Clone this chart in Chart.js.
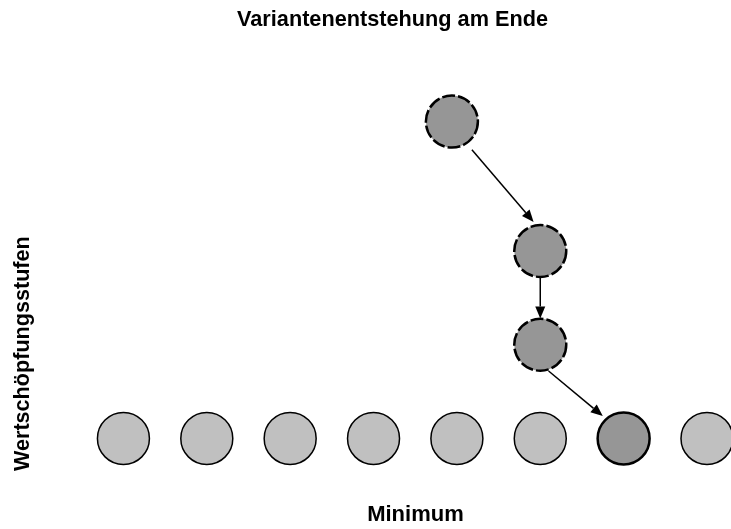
<!DOCTYPE html>
<html>
<head>
    <meta charset="utf-8">
    <title>Variantenentstehung am Ende</title>
    <style>
        html, body { margin: 0; padding: 0; background: #fff; overflow: hidden; }
        #wrap { width: 731px; height: 529px; }
    </style>
</head>
<body>
    <div id="wrap">
        <canvas id="myChart"></canvas>
    </div>
    <script src="https://cdn.jsdelivr.net/npm/chart.js"></script>
    <script>
        const chartTitle = 'Variantenentstehung am Ende';
        const xTitle = 'Minimum';
        const yTitle = 'Wertschöpfungsstufen';

        // untere Reihe (Stufe 1)
        const baseX = [1, 2, 3, 4, 5, 6, 8];
        const baseY = [1, 1, 1, 1, 1, 1, 1];

        // Variantenpfad, von oben nach unten
        const pathX = [4.94, 6, 6, 7];
        const pathY = [4.38, 3, 2, 1];

        // Pfeile (Anfang -> Spitze), in Achseneinheiten
        const arrowFromX = [5.18, 6.0, 6.10];
        const arrowFromY = [4.08, 2.73, 1.72];
        const arrowToX = [5.92, 6.0, 6.75];
        const arrowToY = [3.31, 2.28, 1.24];

        const fontFamily = '"Liberation Sans", Arial, sans-serif';

        const toPoints = (xs, ys) => xs.map((v, i) => ({x: v, y: ys[i]}));

        const pfeilPlugin = {
            id: 'pfeile',
            beforeDatasetDraw(chart, args) {
                const ds = chart.data.datasets[args.index];
                if (ds.kreisStrich) chart.ctx.setLineDash(ds.kreisStrich);
            },
            afterDatasetDraw(chart) {
                chart.ctx.setLineDash([]);
            },
            afterDatasetsDraw(chart) {
                const {ctx, scales: {x, y}} = chart;
                ctx.save();
                ctx.strokeStyle = '#000';
                ctx.fillStyle = '#000';
                ctx.lineWidth = 1.5;
                for (let i = 0; i < arrowFromX.length; i++) {
                    const sx = x.getPixelForValue(arrowFromX[i]), sy = y.getPixelForValue(arrowFromY[i]);
                    const tx = x.getPixelForValue(arrowToX[i]), ty = y.getPixelForValue(arrowToY[i]);
                    const dx = tx - sx, dy = ty - sy;
                    const len = Math.hypot(dx, dy);
                    const ux = dx / len, uy = dy / len;
                    const head = 12, half = 5;
                    const bx = tx - ux * head, by = ty - uy * head;
                    ctx.beginPath();
                    ctx.moveTo(sx, sy);
                    ctx.lineTo(bx, by);
                    ctx.stroke();
                    ctx.beginPath();
                    ctx.moveTo(tx, ty);
                    ctx.lineTo(bx - uy * half, by + ux * half);
                    ctx.lineTo(bx + uy * half, by - ux * half);
                    ctx.closePath();
                    ctx.fill();
                }
                ctx.restore();
            },
            afterDraw(chart) {
                const ctx = chart.ctx;
                ctx.save();
                ctx.font = 'bold 21.7px ' + fontFamily;
                ctx.fillStyle = '#000';
                ctx.textAlign = 'center';
                ctx.textBaseline = 'alphabetic';
                ctx.fillText(chartTitle, 392.5, 26);
                ctx.restore();
            }
        };

        const circle = {
            pointRadius: 26,
            pointHoverRadius: 26,
            clip: false
        };

        const data = {
            datasets: [
                Object.assign({
                    label: 'Stufe 1',
                    data: toPoints(baseX, baseY),
                    pointBackgroundColor: '#c0c0c0',
                    pointBorderColor: '#000',
                    pointBorderWidth: 1.5
                }, circle),
                Object.assign({
                    label: 'Varianten',
                    data: toPoints(pathX.slice(0, 3), pathY.slice(0, 3)),
                    pointBackgroundColor: '#969696',
                    pointBorderColor: '#000',
                    pointBorderWidth: 2.5,
                    kreisStrich: [13, 3]
                }, circle),
                Object.assign({
                    label: 'Ende',
                    data: toPoints(pathX.slice(3), pathY.slice(3)),
                    pointBackgroundColor: '#969696',
                    pointBorderColor: '#000',
                    pointBorderWidth: 2.5
                }, circle)
            ]
        };

        const config = {
            type: 'scatter',
            data: data,
            plugins: [pfeilPlugin],
            options: {
                responsive: true,
                maintainAspectRatio: false,
                animation: false,
                events: [],
                layout: {
                    autoPadding: false,
                    padding: { top: 60, left: 0, right: 2, bottom: 0 }
                },
                plugins: {
                    legend: { display: false },
                    tooltip: { enabled: false },
                    title: { display: false }
                },
                scales: {
                    x: {
                        type: 'linear',
                        min: 0.742,
                        max: 8.264,
                        ticks: { display: false },
                        grid: { display: false, drawTicks: false },
                        border: { display: false },
                        title: {
                            display: true,
                            text: xTitle,
                            color: '#000',
                            font: { family: fontFamily, size: 22, weight: 'bold' },
                            padding: { top: 30.6, bottom: 1 }
                        }
                    },
                    y: {
                        type: 'linear',
                        min: 0.653,
                        max: 5.037,
                        ticks: { display: false },
                        grid: { display: false, drawTicks: false },
                        border: { display: false },
                        title: {
                            display: true,
                            text: yTitle,
                            align: 'start',
                            color: '#000',
                            font: { family: fontFamily, size: 21.6, weight: 'bold' },
                            padding: { top: 10.5, bottom: 65.5 }
                        }
                    }
                }
            }
        };

        const myChart = new Chart(document.getElementById('myChart'), config);
    </script>
</body>
</html>
